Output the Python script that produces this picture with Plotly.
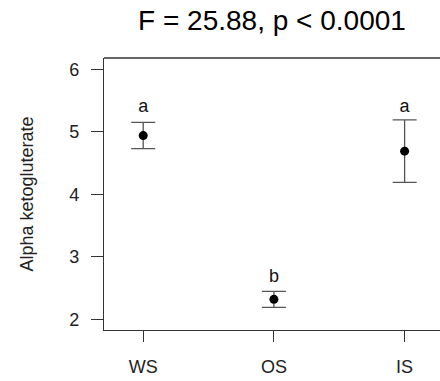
import plotly.graph_objects as go

groups = ["WS", "OS", "IS"]
group_pos = [1, 2, 3]
means = [4.94, 2.32, 4.69]
errors = [0.21, 0.128, 0.50]
letters = ["a", "b", "a"]
letter_y = [5.39, 2.67, 5.39]
y_ticks = [2, 3, 4, 5, 6]
title_text = "F = 25.88, p < 0.0001"
y_label = "Alpha ketogluterate"

FONT = "Liberation Sans, Arial, sans-serif"

fig = go.Figure()
fig.add_trace(go.Scatter(
    x=group_pos, y=means, mode="markers",
    marker=dict(color="black", size=9),
    error_y=dict(type="data", array=errors, visible=True,
                 color="#555555", thickness=1.3, width=12),
    showlegend=False, hoverinfo="skip",
))
fig.add_trace(go.Scatter(
    x=group_pos, y=letter_y, mode="text", text=letters,
    textfont=dict(family=FONT, size=18, color="#111111"),
    textposition="middle center", showlegend=False, hoverinfo="skip",
))

fig.add_shape(type="line", xref="paper", yref="paper", x0=0, x1=1, y0=1, y1=1,
              line=dict(color="#333333", width=1.3))

fig.update_layout(
    width=440, height=381,
    margin=dict(l=104, r=0, t=58, b=51),
    paper_bgcolor="white", plot_bgcolor="white",
    title=dict(text=title_text, x=(272) / 440, xanchor="center",
               y=1 - 20 / 381, yanchor="middle",
               font=dict(family=FONT, size=28, color="black")),
    xaxis=dict(range=[0.7, 0.7 + 336 / 130.7], tickvals=group_pos, ticktext=groups,
               showgrid=False, zeroline=False, showline=True, linecolor="#333333",
               linewidth=1.3, ticks="outside", ticklen=11, tickcolor="#333333",
               tickwidth=1.3, ticklabelstandoff=9,
               tickfont=dict(family=FONT, size=18, color="#222222")),
    yaxis=dict(range=[1.829, 6.181], tickvals=y_ticks,
               showgrid=False, zeroline=False, showline=True, linecolor="#333333",
               linewidth=1.3, ticks="outside", ticklen=12, tickcolor="#333333",
               tickwidth=1.3, ticklabelstandoff=8,
               tickfont=dict(family=FONT, size=18, color="#222222"),
               title=dict(text=y_label, standoff=30,
                          font=dict(family=FONT, size=18, color="#222222"))),
)

fig.write_html("out.html")
